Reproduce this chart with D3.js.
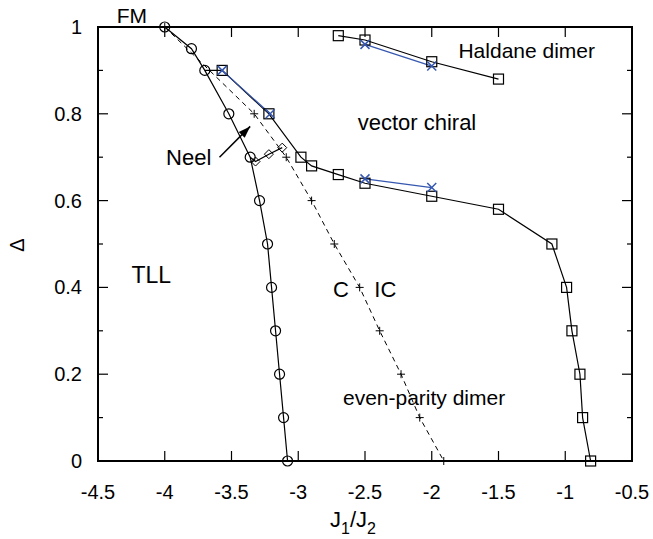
<!DOCTYPE html>
<html><head><meta charset="utf-8">
<script src="https://cdn.jsdelivr.net/npm/d3@7"></script>
<style>body{margin:0;background:#fff} text{font-family:"Liberation Sans",Arial,Helvetica,sans-serif;fill:#000}</style>
</head><body><svg id="chart"></svg>
<script>
// phase boundaries, [J1/J2, Delta]
const tllLine = [[-4,1],[-3.8,0.95],[-3.7,0.9],[-3.52,0.8],[-3.36,0.7],[-3.29,0.6],[-3.23,0.5],[-3.2,0.4],[-3.17,0.3],[-3.14,0.2],[-3.11,0.1],[-3.08,0]];
const cicLine = [[-4,1],[-3.33,0.8],[-3.09,0.7],[-2.9,0.6],[-2.73,0.5],[-2.54,0.4],[-2.39,0.3],[-2.23,0.2],[-2.09,0.1],[-1.91,0]];
const chiralLine = [[-3.57,0.9],[-3.22,0.8],[-2.98,0.7],[-2.9,0.68],[-2.7,0.66],[-2.5,0.64],[-2,0.61],[-1.5,0.58],[-1.1,0.5],[-0.99,0.4],[-0.95,0.3],[-0.89,0.2],[-0.87,0.1],[-0.81,0]];
const haldaneLine = [[-2.7,0.98],[-2.5,0.97],[-2,0.92],[-1.5,0.88]];
const neelLine = [[-3.32,0.69],[-3.22,0.707],[-3.12,0.722]];
const blueSets = [
  [[-3.57,0.9],[-3.21,0.8]],
  [[-2.5,0.65],[-2,0.63]],
  [[-2.5,0.96],[-2,0.91]]
];
const xTicks = [-4.5,-4,-3.5,-3,-2.5,-2,-1.5,-1,-0.5];
const yTicks = [0,0.1,0.2,0.3,0.4,0.5,0.6,0.7,0.8,0.9,1];
const labels = [
  {t:"FM", x:-4.36, y:1.009, s:21},
  {t:"Haldane dimer", x:-1.8, y:0.928, s:21},
  {t:"vector chiral", x:-2.555, y:0.762, s:22},
  {t:"Neel", x:-3.99, y:0.681, s:22},
  {t:"TLL", x:-4.25, y:0.41, s:23},
  {t:"C", x:-2.74, y:0.378, s:22},
  {t:"IC", x:-2.43, y:0.378, s:22},
  {t:"even-parity dimer", x:-2.665, y:0.13, s:21}
];
const arrow = [[-3.59,0.70],[-3.36,0.771]];

const W = 653, H = 539;
const m = {l:98, r:21, t:27, b:78};
const svg = d3.select("#chart").attr("width", W).attr("height", H);
const x = d3.scaleLinear().domain([-4.5,-0.5]).range([m.l, W-m.r]);
const y = d3.scaleLinear().domain([0,1]).range([H-m.b, m.t]);
const line = d3.line().x(d => x(d[0])).y(d => y(d[1]));

svg.append("defs").append("marker")
  .attr("id","head").attr("viewBox","0 0 10 10").attr("refX",10).attr("refY",5)
  .attr("markerWidth",12).attr("markerHeight",12).attr("markerUnits","userSpaceOnUse")
  .attr("orient","auto")
  .append("path").attr("d","M0,1.5L10,5L0,8.5Z").attr("fill","#000");

// ticks
const tk = svg.append("g").attr("stroke","#000").attr("stroke-width",1.2);
xTicks.forEach(v => {
  tk.append("line").attr("x1",x(v)).attr("x2",x(v)).attr("y1",y(0)).attr("y2",y(0)-10);
  tk.append("line").attr("x1",x(v)).attr("x2",x(v)).attr("y1",y(1)).attr("y2",y(1)+10);
});
yTicks.forEach((v,i) => {
  const len = i % 2 === 0 ? 10 : 5;
  tk.append("line").attr("x1",x(-4.5)).attr("x2",x(-4.5)+len).attr("y1",y(v)).attr("y2",y(v));
  tk.append("line").attr("x1",x(-0.5)).attr("x2",x(-0.5)-len).attr("y1",y(v)).attr("y2",y(v));
});
svg.append("rect").attr("x",m.l).attr("y",m.t).attr("width",W-m.l-m.r).attr("height",H-m.t-m.b)
  .attr("fill","none").attr("stroke","#000").attr("stroke-width",2);

svg.append("g").selectAll("text").data(xTicks).join("text")
  .attr("x", d => x(d)).attr("y", y(0)+38).attr("text-anchor","middle").attr("font-size",20)
  .text(d => d);
svg.append("g").selectAll("text").data(yTicks.filter((d,i) => i % 2 === 0)).join("text")
  .attr("x", m.l-16).attr("y", d => y(d)+7).attr("text-anchor","end").attr("font-size",20)
  .text(d => d);

svg.append("text").attr("transform",`translate(24,${(m.t+H-m.b)/2+1}) rotate(-90)`)
  .attr("text-anchor","middle").attr("font-size",20).text("Δ");
const xl = svg.append("text").attr("x",353).attr("y",527).attr("text-anchor","middle").attr("font-size",22);
xl.append("tspan").text("J");
xl.append("tspan").attr("font-size",16).attr("dy",7).text("1");
xl.append("tspan").attr("dy",-7).text("/J");
xl.append("tspan").attr("font-size",16).attr("dy",7).text("2");

// lines
const lg = svg.append("g").attr("fill","none").attr("stroke","#000").attr("stroke-width",1.2);
lg.append("path").attr("d", line(tllLine));
lg.append("path").attr("d", line(cicLine)).attr("stroke-dasharray","5,4").attr("stroke-width",1);
lg.append("path").attr("d", line([tllLine[2]].concat(chiralLine)));
lg.append("path").attr("d", line(haldaneLine));
lg.append("path").attr("d", line([tllLine[4]].concat(neelLine)));
blueSets.forEach(s => lg.append("path").attr("d", line(s)).attr("stroke","#3557b0"));

// markers
const mk = svg.append("g").attr("fill","none").attr("stroke","#000").attr("stroke-width",1.2);
mk.selectAll(".c").data(tllLine).join("circle").attr("class","c")
  .attr("cx", d => x(d[0])).attr("cy", d => y(d[1])).attr("r",5);
mk.selectAll(".p").data(cicLine).join("path").attr("class","p")
  .attr("d", d => `M${x(d[0])-4},${y(d[1])}h8M${x(d[0])},${y(d[1])-4}v8`).attr("stroke-width",1);
mk.selectAll(".s").data(chiralLine.concat(haldaneLine)).join("rect").attr("class","s")
  .attr("x", d => x(d[0])-5).attr("y", d => y(d[1])-5).attr("width",10).attr("height",10);
mk.selectAll(".d").data(neelLine).join("path").attr("class","d")
  .attr("d", d => `M${x(d[0])},${y(d[1])-4.5}l4.5,4.5l-4.5,4.5l-4.5,-4.5z`).attr("stroke-width",1);
mk.selectAll(".x").data(blueSets.flat()).join("path").attr("class","x")
  .attr("d", d => `M${x(d[0])-4.5},${y(d[1])-4.5}l9,9M${x(d[0])-4.5},${y(d[1])+4.5}l9,-9`)
  .attr("stroke","#3557b0").attr("stroke-width",1.5);

// annotation arrow
svg.append("path").attr("d", line(arrow)).attr("stroke","#000").attr("stroke-width",1.5)
  .attr("marker-end","url(#head)");

svg.append("g").selectAll("text").data(labels).join("text")
  .attr("x", d => x(d.x)).attr("y", d => y(d.y)).attr("font-size", d => d.s)
  .text(d => d.t);
</script></body></html>
